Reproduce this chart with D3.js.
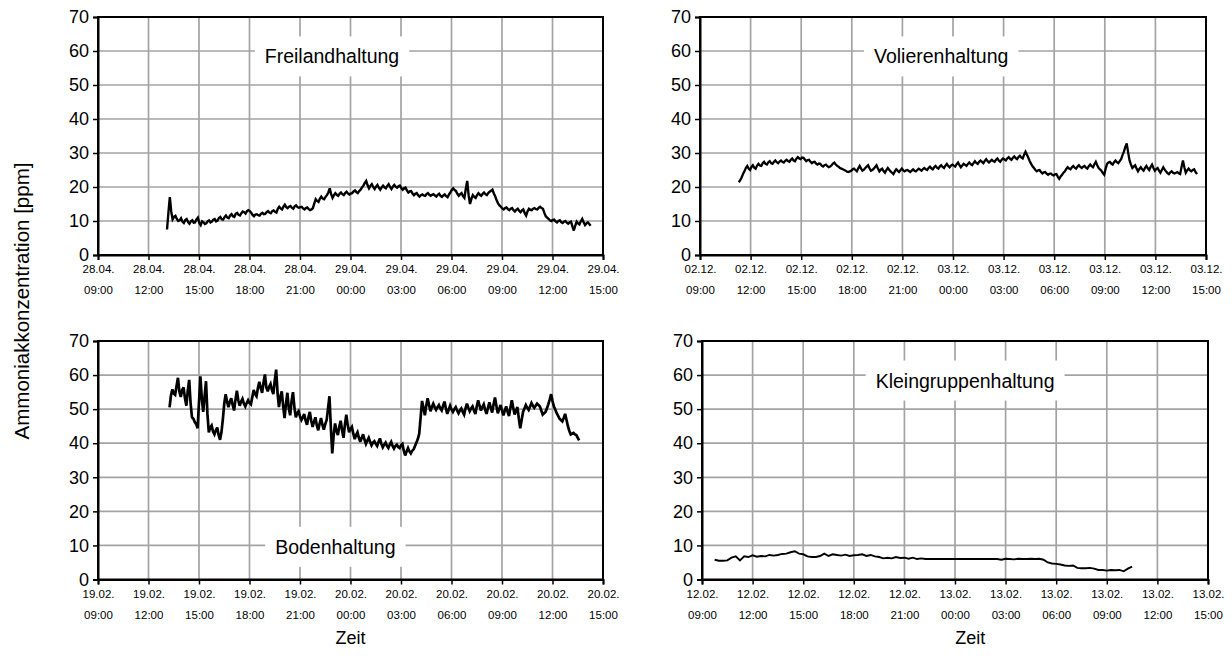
<!DOCTYPE html>
<html><head><meta charset="utf-8">
<script src="https://cdn.jsdelivr.net/npm/d3@7/dist/d3.min.js"></script>
<style>body{margin:0;background:#fff}svg{display:block;font-family:"Liberation Sans",Arial,sans-serif}</style>
</head><body><svg id="c" width="1232" height="659"></svg>
<script>
// ---------- data ----------
const yTicks = [0,10,20,30,40,50,60,70];
const tickHours = [0,3,6,9,12,15,18,21,24,27,30]; // hours after 09:00 of first day
const hourLabels = ['09:00','12:00','15:00','18:00','21:00','00:00','03:00','06:00','09:00','12:00','15:00'];
const freilandDays = ['28.04.','28.04.','28.04.','28.04.','28.04.','29.04.','29.04.','29.04.','29.04.','29.04.','29.04.'];
const volierenDays = ['02.12.','02.12.','02.12.','02.12.','02.12.','03.12.','03.12.','03.12.','03.12.','03.12.','03.12.'];
const bodenDays = ['19.02.','19.02.','19.02.','19.02.','19.02.','20.02.','20.02.','20.02.','20.02.','20.02.','20.02.'];
const kleinDays = ['12.02.','12.02.','12.02.','12.02.','12.02.','13.02.','13.02.','13.02.','13.02.','13.02.','13.02.'];

// Freilandhaltung: start 4.1 h after 09:00, 5-minute readings [ppm]
const freilandStart = 4.1, freilandStepMin = 5;
const freilandValues = [7.5,12.5,17,12.8,10.5,11.2,11.5,10.6,10,10.2,10.8,9.8,9.4,10.3,10.6,9.7,9.2,9.9,10.2,9.5,
9.6,10.5,11,9.4,8.8,9.9,9.6,9.1,9.3,9.9,10.2,9.6,9.8,10.4,10.6,9.9,10.1,10.9,11.2,10.5,
10.4,11.1,11.6,11,10.8,11.6,12,11.4,11.2,12.1,12.4,11.8,11.6,12.3,12.8,12.6,12.2,12.9,13.2,12.9,
12.4,11.8,11.4,11.9,12,11.7,11.6,12.1,12.4,12,12.1,12.6,12.9,12.5,12.3,12.9,13.1,12.7,12.5,13.6,
14.2,13.7,13.4,14.2,14.8,14.1,13.8,14.2,14.4,13.9,13.6,14.3,14.6,14.1,13.9,14.1,14.2,13.7,13.4,13.8,
14,13.5,13.2,13.4,13.8,15.2,16.4,15.9,15.6,16.6,17.2,16.6,16.4,17.1,17.6,18.4,19.6,17.9,16.8,17.6,
18.2,17.7,17.4,18,18.4,17.9,17.6,18.2,18.6,18.1,17.8,18.1,18.2,18.7,19,18.5,18.2,18.8,19.2,19.9,
20.4,21.2,21.8,20.5,19.6,20.3,20.8,20,19.4,20.1,20.6,19.8,19.2,19.9,20.4,19.9,19.6,20.3,20.8,20,
19.4,20.1,20.6,20.1,19.8,20.2,20.4,19.7,19.2,19.6,19.8,19,18.4,18.7,18.8,18.1,17.6,18,18.2,17.6,
17.2,17.6,17.8,17.5,17.4,17.9,18.2,17.7,17.4,17.7,17.9,17.5,17.2,17.7,18,17.4,17.1,17.5,17.8,17.3,
17,17.8,18.4,19.1,19.6,19.1,18.8,18,17.4,17.9,18.2,17.3,16.8,19.5,21.8,17.6,15,16.5,17.6,17.1,
16.8,17.6,18.2,17.7,17.4,18,18.4,17.9,17.6,18.2,18.6,18.9,19.2,18.1,17.2,16.1,15.2,14.6,14.2,13.7,
13.4,13.8,14,13.5,13.2,13.6,13.8,13.2,12.8,13.3,13.6,13,12.6,13.1,13.4,12.3,11.6,12.8,13.6,13.3,
13.2,13.6,13.8,13.5,13.4,13.9,14.2,13.8,13.6,12.4,11.4,11,10.6,10.2,10,10.3,10.4,9.9,9.6,10,
10.2,9.7,9.4,9.8,10,9.5,9.2,9.6,9.8,8.4,7.2,8.6,9.8,9.3,9,9.9,10.6,9.6,8.8,9.3,
9.6,9.1,8.6];

// Volierenhaltung: start 2.3 h, 5-minute readings
const volierenStart = 2.3, volierenStepMin = 5;
const volierenValues = [21.4,22,22.8,23.8,24.6,25.6,26.2,25.4,25,25.9,26.4,25.7,25.4,26.3,26.8,26.3,26.2,27,27.4,26.8,
26.6,27.3,27.6,27,26.8,27.4,27.8,27.3,27,27.5,27.8,27.4,27.2,27.7,28,27.6,27.4,28,28.4,27.8,
27.6,28.3,28.8,28.4,28.2,28.7,28.6,28.1,27.6,27.9,28,27.4,27,27.3,27.4,26.9,26.6,26.9,26.8,26.3,
26,26.4,26.6,26.1,25.8,26,26.4,26.9,27.2,26.6,26.2,26,25.6,25.4,25.2,25,24.8,24.5,24.4,24.6,
24.8,25.2,25.4,25,24.6,25.5,26.2,25.4,24.8,25.1,25.6,26,26.4,25.5,24.8,25,25.4,25.9,26.4,25.4,
24.6,25.1,25.4,24.7,24.2,25,25.6,25.1,24.6,24.2,23.8,24.6,25.2,24.8,24.4,24.9,25.4,24.9,24.6,24.9,
25,24.7,24.4,24.8,25.2,24.8,24.6,25,25.4,25.1,24.8,25.3,25.6,25.2,25,25.6,26,25.5,25.2,25.8,
26.2,25.7,25.4,26,26.4,25.9,25.6,26.3,26.8,26.2,25.8,26.3,26.6,26.3,26,26.7,27.2,26.4,25.8,26.3,
26.8,26.5,26.2,26.8,27.2,26.7,26.4,27,27.6,27.1,26.8,27.4,27.8,27.4,27,27.7,28.2,27.6,27.2,27.6,
28,27.6,27.4,28,28.4,27.8,27.4,28,28.4,28.1,27.8,28.4,28.8,28.3,28,28.6,29,28.5,28.2,28.8,
29.2,28.7,28.4,29.5,30.4,29.5,28.6,27.6,26.8,26.1,25.6,25,24.6,24.9,25,24.4,24,24.3,24.4,23.9,
23.6,23.9,24,23.6,23.4,23.7,23.8,23,22.4,23.1,23.6,24.2,24.6,25.3,25.8,25.4,25.2,25.8,26.2,25.7,
25.4,26,26.4,25.9,25.6,26,26.2,25.7,25.4,26.1,26.6,26.1,25.8,26.7,27.4,26.4,25.6,25.2,24.8,24.1,
23.6,25.4,26.8,27.2,27.4,26.9,26.6,27.3,27.8,27.3,27,27.6,28.2,29.4,30.4,31.8,32.8,30.2,27.8,26.6,
25.6,26,26.4,25.4,24.6,25.3,25.8,25.2,24.8,25.6,26.2,25.5,25,25.9,26.6,25.6,24.8,25.3,25.6,24.8,
24.2,25,25.8,25.1,24.6,24.1,23.8,24.3,24.6,24.2,24,24.2,24.4,24,23.8,25.9,27.8,25.8,24.2,24.9,
25.4,24.9,24.6,25,25.2,24.4,23.8];

// Bodenhaltung: start 4.25 h, 5-minute readings
const bodenStart = 4.25, bodenStepMin = 5;
const bodenValues = [50.5,54,55.8,54.6,54.2,56.8,59.2,55.2,53.6,55.6,56.4,53.2,51,55.4,58.6,51.8,47.6,47.2,46.2,45.6,
44.4,52,59.6,53.2,49.2,53.8,58.2,48.6,43.2,44.6,45.2,43.4,42.6,43.8,44.6,42.4,41,43.2,47,51.6,
54.4,52.2,50.6,52.2,53.2,51.2,49.6,52.8,55.4,52.6,51,52.2,53,51.6,50.8,51.8,52.6,51.8,51.4,53.6,
55.6,54.4,53.8,56.2,58,56.2,54.8,57.8,60.2,56.4,55.2,56.6,57.4,55.6,54.4,58.4,61.6,54.8,50.6,53.6,
55.2,50.8,47.4,51.6,54.8,50.2,48.2,52.4,55,50.6,47.6,48.8,49.4,47.8,46.8,47.6,48.6,46.6,45.4,47.6,
49.2,46.6,44.8,46.4,47.6,45.2,43.8,45.8,47.4,45.4,44,45.6,46.8,50.2,53.8,44.6,37,42.4,45.8,43.6,
42.4,44.8,46.6,43.8,41.6,45.4,48.4,45.4,43.2,44.2,44.8,42.8,41.2,42.4,43.2,41.6,40.4,41.6,42.6,41,
39.8,40.8,41.6,40.4,39.4,40.2,40.6,39.8,39.2,40.4,41.4,39.8,38.8,39.6,40.2,39.2,38.6,39.6,40.4,39.2,
38.4,39.2,39.6,38.9,38.6,39.4,39.8,37.8,36.4,37.6,38.6,37.6,37,37.8,38.2,39.2,40.2,41.2,42.8,47.6,
52.4,50.4,48.2,51,53.2,51.2,49.4,50.6,51.6,50.6,49.8,50.6,51.2,50.2,49.6,51,52.2,50.2,48.6,49.8,
51,49.9,49.2,50,50.6,49.6,48.8,49.6,50.2,49.2,48.4,50.2,51.6,50.4,49.4,50.2,50.8,49.6,48.6,50.8,
52.6,51,49.6,50.6,51.4,49.8,48.6,50.4,52,50.4,49,51.4,53.4,51,48.8,50,51.2,49.6,48.2,49.6,
50.8,49.2,48,50.4,52.6,50.4,48.4,49.6,50.6,47.2,44.4,46.8,49.2,50.2,51.2,50.4,49.8,50.8,51.8,51,
50.4,51,51.6,51.2,50.8,49.6,48.4,48.8,49.2,50.2,51.4,52.8,54.4,52.4,50.8,49.8,48.8,48,47.2,46.8,
46.4,47.4,48.6,46.8,45,43.6,42.6,42.8,43,42.6,42.4,41.6,40.8];

// Kleingruppenhaltung: start 0.75 h, 15-minute readings
const kleinStart = 0.75, kleinStepMin = 15;
const kleinValues = [5.8,5.5,5.5,5.6,6.4,6.8,5.6,6.8,6.6,7.1,6.7,6.9,6.8,7.2,7,7.2,7.5,7.6,8,8.3,
7.6,7.4,6.8,6.6,6.6,6.9,7.6,6.9,7.4,7.2,7,7.3,6.9,7.1,7.2,7.4,6.9,7.2,6.8,6.6,
6.2,6.4,6.2,6.6,6.3,6.4,6.1,6.4,6,6.2,6,6,6,6,6,6,6,6,6,6,
6,6,6,6,6,6,6,6,5.8,6.1,6,5.9,6.1,6,6,6.1,6,6.1,5.8,5,
4.7,4.6,4.4,4.1,4,4.1,3.4,3.3,3.3,3.4,3.2,2.8,2.8,2.6,2.8,2.7,2.8,2.4,3.2,3.8];

// ---------- layout ----------
const panels = [
  {title:'Freilandhaltung', days:freilandDays, start:freilandStart, step:freilandStepMin, values:freilandValues,
   left:98, top:17, width:505, height:238, tx:13.9, ty:58.4, xlabel:false, sw:2.4},
  {title:'Volierenhaltung', days:volierenDays, start:volierenStart, step:volierenStepMin, values:volierenValues,
   left:700, top:17, width:506, height:238, tx:14.3, ty:58.4, xlabel:false, sw:2.3},
  {title:'Bodenhaltung', days:bodenDays, start:bodenStart, step:bodenStepMin, values:bodenValues,
   left:98, top:341, width:505, height:238.5, tx:14.1, ty:9.6, xlabel:true, zx:15, sw:2.7},
  {title:'Kleingruppenhaltung', days:kleinDays, start:kleinStart, step:kleinStepMin, values:kleinValues,
   left:702, top:341, width:506, height:238.5, tx:15.6, ty:58.4, xlabel:true, zx:15.9, sw:1.9}
];

const svg = d3.select('#c');
const FONT = '"Liberation Sans",Arial,sans-serif';

panels.forEach(p => {
  const x = d3.scaleLinear().domain([0,30]).range([p.left, p.left+p.width]);
  const y = d3.scaleLinear().domain([0,70]).range([p.top+p.height, p.top]);
  const g = svg.append('g');

  // grid
  g.append('g').selectAll('line').data(tickHours.slice(1,-1)).join('line')
    .attr('x1',d=>x(d)).attr('x2',d=>x(d)).attr('y1',p.top).attr('y2',p.top+p.height)
    .attr('stroke','#a3a3a3').attr('stroke-width',1.7);
  g.append('g').selectAll('line').data(yTicks.slice(1,-1)).join('line')
    .attr('y1',d=>y(d)).attr('y2',d=>y(d)).attr('x1',p.left).attr('x2',p.left+p.width)
    .attr('stroke','#a3a3a3').attr('stroke-width',1.7);

  // title with white box
  const tg = g.append('g');
  const t = tg.append('text').attr('x',x(p.tx)).attr('y',y(p.ty)).attr('text-anchor','middle')
    .attr('dominant-baseline','central').attr('font-size',19.5).attr('fill','#000').text(p.title);
  const bb = t.node().getBBox();
  tg.insert('rect','text').attr('x',bb.x-10).attr('y',bb.y-9).attr('width',bb.width+20).attr('height',bb.height+18)
    .attr('fill','#fff');

  // data line
  const pts = p.values.map((v,i)=>[p.start + i*p.step/60, v]);
  g.append('path').datum(pts)
    .attr('d', d3.line().x(d=>x(d[0])).y(d=>y(d[1])))
    .attr('fill','none').attr('stroke','#000').attr('stroke-width',p.sw).attr('stroke-linejoin','miter').attr('stroke-miterlimit',3);

  // frame
  g.append('rect').attr('x',p.left).attr('y',p.top).attr('width',p.width).attr('height',p.height)
    .attr('fill','none').attr('stroke','#000').attr('stroke-width',2);

  // y axis
  const ya = g.append('g').attr('transform',`translate(${p.left},0)`)
    .call(d3.axisLeft(y).tickValues(yTicks).tickSize(5).tickPadding(4).tickFormat(d3.format('d')));
  ya.select('.domain').attr('stroke-width',2);
  ya.selectAll('.tick line').attr('stroke-width',1.5);
  ya.selectAll('.tick text').attr('font-size',18).attr('font-family',FONT).attr('fill','#000');

  // x axis
  const xa = g.append('g').attr('transform',`translate(0,${p.top+p.height})`)
    .call(d3.axisBottom(x).tickValues(tickHours).tickSize(5).tickFormat(''));
  xa.select('.domain').attr('stroke-width',2);
  xa.selectAll('.tick line').attr('stroke-width',1.5);
  xa.selectAll('.tick').each(function(d,i){
    const tt = d3.select(this).append('text').attr('fill','#000').attr('font-size',11.5)
      .attr('font-family',FONT).attr('text-anchor','middle');
    tt.append('tspan').attr('x',0).attr('y',18).text(p.days[i]);
    tt.append('tspan').attr('x',0).attr('y',39).text(hourLabels[i]);
  });

  if (p.xlabel) {
    g.append('text').attr('x',x(p.zx)).attr('y',p.top+p.height+64).attr('text-anchor','middle')
      .attr('font-size',18).attr('fill','#000').text('Zeit');
  }
});

svg.append('text').attr('transform','translate(29,301) rotate(-90)').attr('text-anchor','middle')
  .attr('font-size',20.5).attr('fill','#000').text('Ammoniakkonzentration [ppm]');
</script></body></html>
